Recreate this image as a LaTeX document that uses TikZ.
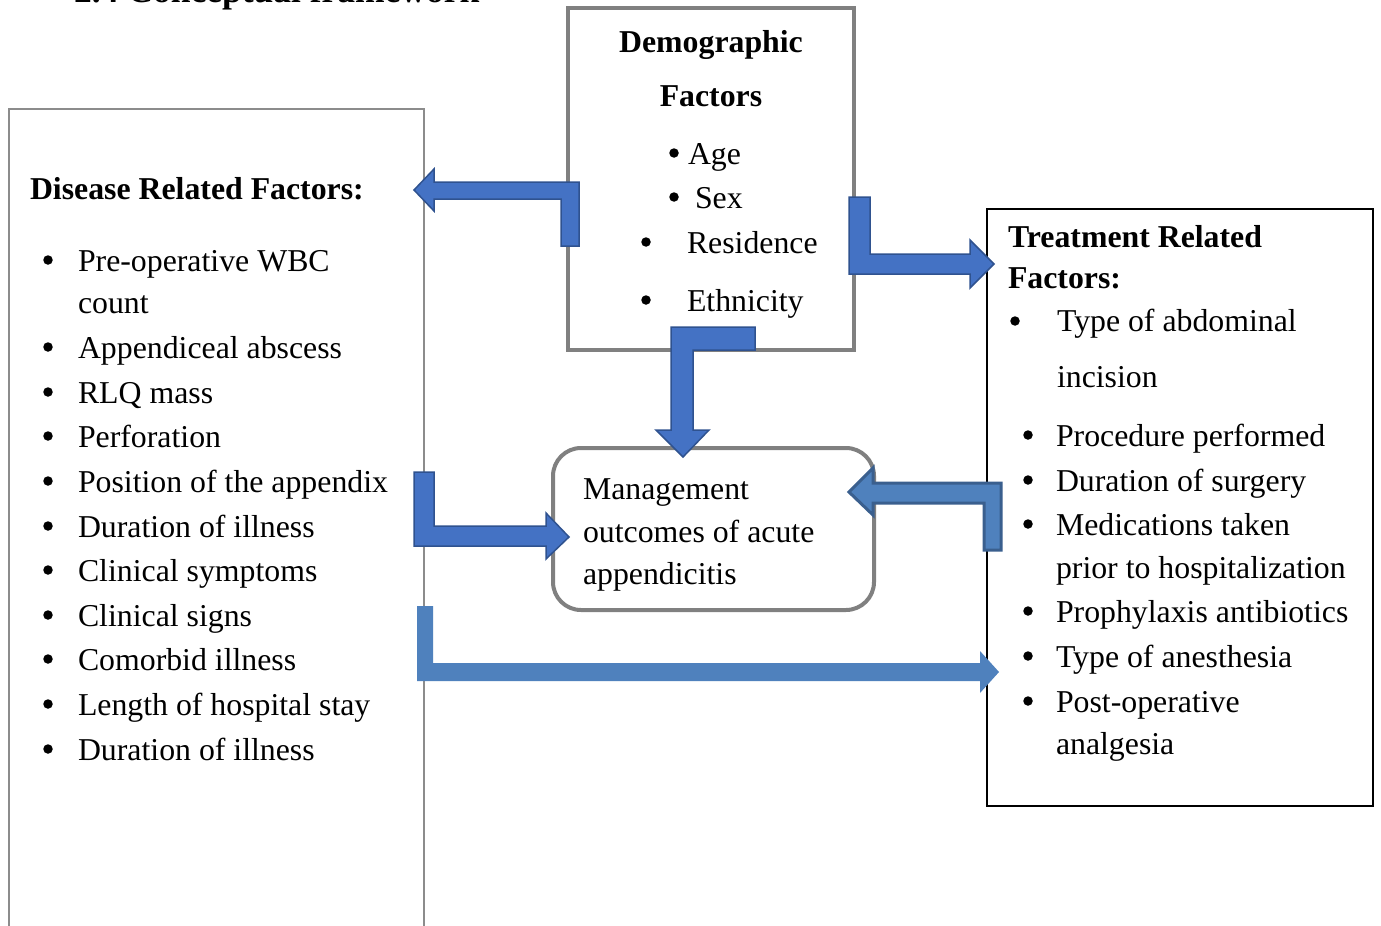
\documentclass[tikz,border=0pt]{standalone}
\usepackage{fontspec}
\setmainfont{Liberation Serif}
\definecolor{arrblue}{HTML}{4472C4}
\definecolor{arrborder}{HTML}{2F528F}
\definecolor{arrlight}{HTML}{4F81BD}
\definecolor{arrdark}{HTML}{3A5F8E}
\definecolor{boxgray}{HTML}{808080}
\definecolor{lboxgray}{HTML}{8C8C8C}
\newcommand{\fsz}{\fontsize{31.8}{38}\selectfont}
\tikzset{
  txt/.style={anchor=base west, inner sep=0, outer sep=0, font=\fsz},
  btxt/.style={anchor=base west, inner sep=0, outer sep=0, font=\fsz\bfseries},
  bul/.style={circle, fill=black, inner sep=0, outer sep=0, minimum size=9.5pt},
  boxn/.style={anchor=north west, inner sep=0, outer sep=0},
  barrow/.style={fill=arrblue, draw=arrborder, line width=1.5pt, line join=miter},
  darrow/.style={fill=arrlight, draw=arrdark, line width=3pt, line join=miter},
  larrow/.style={fill=arrlight},
}
\begin{document}
\begin{tikzpicture}[x=1pt,y=-1pt]
\useasboundingbox (0,0) rectangle (1381,926);
\fill[white] (0,0) rectangle (1381,926);
% title (cut off at top, as in the reference)
\node[anchor=base west, inner sep=0, font=\fontsize{35.5}{42}\selectfont\bfseries] (title) at (74,2.5) {2.4 Conceptual framework};
% boxes
\node[boxn, draw=lboxgray, line width=2pt, minimum width=415pt, minimum height=831pt] (disease) at (9,109) {};
\node[boxn, draw=boxgray, line width=4pt, minimum width=286pt, minimum height=342pt] (demo) at (568,8) {};
\node[boxn, draw=black, line width=2pt, minimum width=386pt, minimum height=597pt] (treat) at (987,209) {};
\node[boxn, draw=boxgray, line width=4pt, rounded corners=28pt, minimum width=321pt, minimum height=162pt] (mgmt) at (553,448) {};
% disease text
\node[btxt] (dtitle) at (30,199) {Disease Related Factors:};
\foreach \t/\y [count=\i] in {Pre-operative WBC/271, Appendiceal abscess/358, RLQ mass/403, Perforation/447, Position of the appendix/492, Duration of illness/537, Clinical symptoms/581, Clinical signs/626, Comorbid illness/670, Length of hospital stay/715, Duration of illness/760}{
  \node[bul] (db\i) at (48,\y-11) {};
  \node[txt] (dt\i) at (78,\y) {\t};
}
\node[txt] (dcount) at (78,313) {count};
% demographic text
\node[anchor=base, inner sep=0, font=\fsz\bfseries] (demot1) at (711,52) {Demographic};
\node[anchor=base, inner sep=0, font=\fsz\bfseries] (demot2) at (711,106) {Factors};
\node[bul] (ab) at (674,153) {};
\node[txt] (age) at (688,164) {Age};
\node[bul] (sb) at (674,197) {};
\node[txt] (sex) at (695,208) {Sex};
\node[bul] (rb) at (646,242) {};
\node[txt] (res) at (687,253) {Residence};
\node[bul] (eb) at (646,300) {};
\node[txt] (eth) at (687,311) {Ethnicity};
% treatment text
\node[btxt] (tt1) at (1008,247) {Treatment Related};
\node[btxt] (tt2) at (1008,288) {Factors:};
\node[bul] (tb0) at (1015,321) {};
\node[txt] (ti0a) at (1057,331) {Type of abdominal};
\node[txt] (ti0b) at (1057,387) {incision};
\foreach \t/\y [count=\i] in {Procedure performed/446, Duration of surgery/491, Medications taken/535, Prophylaxis antibiotics/622, Type of anesthesia/667, Post-operative/712}{
  \node[bul] (tb\i) at (1028,\y-11) {};
  \node[txt] (ti\i) at (1056,\y) {\t};
}
\node[txt] (tic1) at (1056,578) {prior to hospitalization};
\node[txt] (tic2) at (1056,754) {analgesia};
% management text
\node[txt] (m1) at (583,499) {Management};
\node[txt] (m2) at (583,542) {outcomes of acute};
\node[txt] (m3) at (583,584) {appendicitis};
% block arrows
\draw[barrow] (414,190) -- (434,169) -- (434,182) -- (579,182) -- (579,246) -- (561,246) -- (561,199) -- (434,199) -- (434,211) -- cycle;
\draw[barrow] (849,197) -- (870,197) -- (870,254) -- (970,254) -- (970,240) -- (994,264) -- (970,288) -- (970,274) -- (849,274) -- cycle;
\draw[barrow] (671,327) -- (755,327) -- (755,350) -- (693,350) -- (693,430) -- (709,430) -- (683,457) -- (656,430) -- (671,430) -- cycle;
\draw[barrow] (414,472) -- (434,472) -- (434,526) -- (546,526) -- (546,513) -- (569,537) -- (546,559) -- (546,546) -- (414,546) -- cycle;
\draw[darrow] (849,492) -- (873,468) -- (873,483) -- (1001,483) -- (1001,550) -- (984,550) -- (984,503) -- (873,503) -- (873,515) -- cycle;
\fill[larrow] (417,606) -- (433,606) -- (433,663) -- (980,663) -- (980,651) -- (999,672) -- (980,693) -- (980,681) -- (417,681) -- cycle;
\end{tikzpicture}
\end{document}
